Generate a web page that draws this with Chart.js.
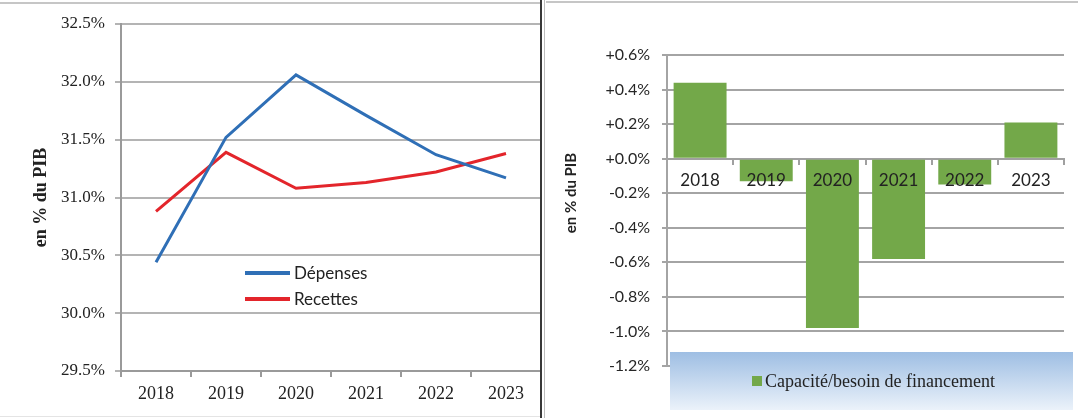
<!DOCTYPE html>
<html><head><meta charset="utf-8">
<script src="https://cdn.jsdelivr.net/npm/chart.js@4.4.0/dist/chart.umd.min.js"></script>
<style>
html,body{margin:0;padding:0;background:#fff;}
#wrap{position:relative;width:1078px;height:418px;overflow:hidden;background:#fff;}
#c1box{position:absolute;left:0;top:0;width:541px;height:418px;}
#c2box{position:absolute;left:546px;top:0;width:532px;height:418px;}
.line{position:absolute;}
</style></head>
<body>
<div id="wrap">
  <div id="c1box"><canvas id="c1" width="541" height="418"></canvas></div>
  <div id="c2box"><canvas id="c2" width="532" height="418"></canvas></div>
  <div class="line" style="left:0;top:2px;width:540px;height:2px;background:#c6c6c6"></div>
  <div class="line" style="left:546px;top:1px;width:532px;height:2px;background:#c6c6c6"></div>
  <div class="line" style="left:0;top:416px;width:540px;height:1px;background:#e4e4e4"></div>
  <div class="line" style="left:540px;top:0;width:2px;height:418px;background:#383838"></div>
  <div class="line" style="left:544px;top:0;width:1px;height:418px;background:#bcbcbc"></div>
</div>
<script>
// ---- data ----
const years = ['2018', '2019', '2020', '2021', '2022', '2023'];
const depenses = [30.44, 31.52, 32.06, 31.71, 31.37, 31.17];
const recettes = [30.88, 31.39, 31.08, 31.13, 31.22, 31.38];
const capacite = [0.44, -0.13, -0.98, -0.58, -0.15, 0.21];
const leftLabels = ['Dépenses', 'Recettes'];
const rightLabel = 'Capacité/besoin de financement';
const yTitleText = 'en % du PIB';
const leftMin = 29.5, leftMax = 32.5, leftStep = 0.5;
const rightMin = -1.2, rightMax = 0.6, rightStep = 0.2;

Chart.defaults.font.family = 'Lato, "Liberation Sans", sans-serif';
Chart.defaults.color = '#222';

const legendLeft = {
  id: 'legendLeft',
  afterDatasetsDraw(chart) {
    const ctx = chart.ctx;
    ctx.save();
    chart.data.datasets.forEach((ds, i) => {
      const y = 273 + i * 26;
      ctx.strokeStyle = ds.borderColor;
      ctx.lineWidth = 4;
      ctx.beginPath(); ctx.moveTo(245, y); ctx.lineTo(290, y); ctx.stroke();
      ctx.fillStyle = '#222';
      ctx.font = '17px Lato';
      ctx.textBaseline = 'middle';
      ctx.textAlign = 'left';
      ctx.fillText(ds.label, 294, y + 1);
    });
    ctx.restore();
  }
};

const legendRight = {
  id: 'legendRight',
  afterDraw(chart) {
    const ctx = chart.ctx;
    ctx.save();
    const x0 = 124, y0 = 352, x1 = 527, y1 = 410;
    const g = ctx.createLinearGradient(0, y0, 0, y1);
    g.addColorStop(0, '#9ebee3');
    g.addColorStop(1, '#ebf2fa');
    ctx.fillStyle = g;
    ctx.fillRect(x0, y0, x1 - x0, y1 - y0);
    const ds = chart.data.datasets[0];
    ctx.fillStyle = ds.backgroundColor;
    ctx.fillRect(206, 376, 10, 10);
    ctx.fillStyle = '#222';
    ctx.font = '18px "Liberation Serif"';
    ctx.textBaseline = 'middle';
    ctx.textAlign = 'left';
    ctx.fillText(ds.label, 219, 382);
    // rotated y title
    ctx.translate(25, 193);
    ctx.rotate(-Math.PI / 2);
    ctx.textAlign = 'center';
    ctx.font = 'bold 15px Lato';
    ctx.fillStyle = '#222';
    ctx.fillText(yTitleText, 0, 0);
    ctx.restore();
  }
};

new Chart(document.getElementById('c1'), {
  type: 'line',
  data: {
    labels: years,
    datasets: [
      { label: leftLabels[0], data: depenses, borderColor: '#2f6fb6', borderWidth: 3, pointRadius: 0, tension: 0, fill: false },
      { label: leftLabels[1], data: recettes, borderColor: '#e3252b', borderWidth: 3, pointRadius: 0, tension: 0, fill: false }
    ]
  },
  options: {
    responsive: false,
    animation: false,
    layout: { padding: { top: 24, left: 0, right: 0, bottom: 0 } },
    plugins: { legend: { display: false }, tooltip: { enabled: false } },
    scales: {
      x: {
        offset: true,
        grid: { drawOnChartArea: false, drawTicks: true, tickLength: 6, offset: true, color: '#9a9a9a', lineWidth: 2 },
        border: { display: true, color: '#9a9a9a', width: 2 },
        ticks: { font: { family: '"Liberation Serif"', size: 18 }, color: '#222', padding: 6, maxRotation: 0 },
        afterFit: s => { s.height = 47; }
      },
      y: {
        min: leftMin, max: leftMax,
        ticks: { stepSize: leftStep, font: { family: '"Liberation Serif"', size: 17 }, color: '#222', padding: 10,
          callback: v => Number(v).toFixed(1) + '%' },
        grid: { color: '#b4b4b4', lineWidth: 2, tickLength: 6 },
        border: { display: true, color: '#9a9a9a', width: 2 },
        title: { display: true, text: yTitleText, font: { family: '"Liberation Serif"', size: 18, weight: 'bold' }, color: '#222', padding: { top: 31, bottom: 0 } },
        afterFit: s => { s.width = 121; }
      }
    }
  },
  plugins: [legendLeft]
});

new Chart(document.getElementById('c2'), {
  type: 'bar',
  data: {
    labels: years,
    datasets: [
      { label: rightLabel, data: capacite, backgroundColor: '#73a849', borderWidth: 0, barPercentage: 0.8, categoryPercentage: 1 }
    ]
  },
  options: {
    responsive: false,
    animation: false,
    layout: { padding: { top: 55, left: 0, right: 14, bottom: 52 } },
    plugins: { legend: { display: false }, tooltip: { enabled: false } },
    scales: {
      x: {
        position: { y: 0 },
        grid: { drawOnChartArea: false, drawTicks: true, tickLength: 5, offset: true, color: '#a0a0a0', lineWidth: 2, z: 0 },
        border: { display: true, color: '#a0a0a0', width: 2, z: 0 },
        ticks: { font: { size: 17 }, color: '#222', padding: 7, maxRotation: 0, z: 1 }
      },
      y: {
        min: rightMin, max: rightMax,
        ticks: { stepSize: rightStep, font: { size: 16 }, color: '#262626', padding: 12,
          callback: v => { const r = Math.round(v * 10) / 10; return (r >= 0 ? '+' : '-') + Math.abs(r).toFixed(1) + '%'; } },
        grid: { color: '#a4a4a4', lineWidth: 2, tickLength: 5 },
        border: { display: true, color: '#a4a4a4', width: 2 },
        afterFit: s => { s.width = 121; }
      }
    }
  },
  plugins: [legendRight]
});
</script>
</body></html>
